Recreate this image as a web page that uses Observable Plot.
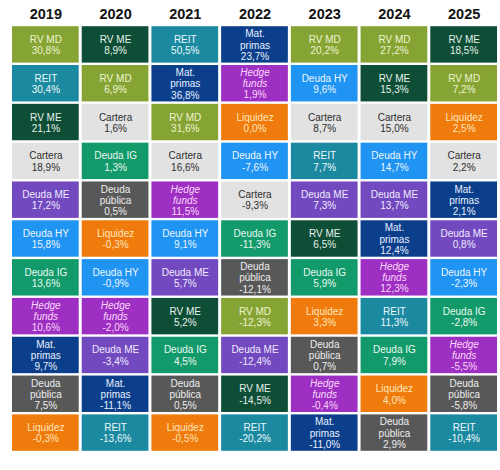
<!DOCTYPE html>
<html>
<head>
<meta charset="utf-8">
<script src="https://cdn.jsdelivr.net/npm/d3@7"></script>
<script src="https://cdn.jsdelivr.net/npm/@observablehq/plot@0.6"></script>
<style>
  html, body { margin: 0; padding: 0; background: #ffffff; overflow: hidden; }
  #chart { width: 500px; height: 470px; }
  #chart svg { display: block; }
</style>
</head>
<body>
<div id="chart"></div>
<script>
const years = ["2019", "2020", "2021", "2022", "2023", "2024", "2025"];

const assets2019 = ["RV MD", "REIT", "RV ME", "Cartera", "Deuda ME", "Deuda HY", "Deuda IG", "Hedge funds", "Mat. primas", "Deuda pública", "Liquidez"];
const returns2019 = [30.8, 30.4, 21.1, 18.9, 17.2, 15.8, 13.6, 10.6, 9.7, 7.5, -0.3];

const assets2020 = ["RV ME", "RV MD", "Cartera", "Deuda IG", "Deuda pública", "Liquidez", "Deuda HY", "Hedge funds", "Deuda ME", "Mat. primas", "REIT"];
const returns2020 = [8.9, 6.9, 1.6, 1.3, 0.5, -0.3, -0.9, -2.0, -3.4, -11.1, -13.6];

const assets2021 = ["REIT", "Mat. primas", "RV MD", "Cartera", "Hedge funds", "Deuda HY", "Deuda ME", "RV ME", "Deuda IG", "Deuda pública", "Liquidez"];
const returns2021 = [50.5, 36.8, 31.6, 16.6, 11.5, 9.1, 5.7, 5.2, 4.5, 0.5, -0.5];

const assets2022 = ["Mat. primas", "Hedge funds", "Liquidez", "Deuda HY", "Cartera", "Deuda IG", "Deuda pública", "RV MD", "Deuda ME", "RV ME", "REIT"];
const returns2022 = [23.7, 1.9, 0.0, -7.6, -9.3, -11.3, -12.1, -12.3, -12.4, -14.5, -20.2];

const assets2023 = ["RV MD", "Deuda HY", "Cartera", "REIT", "Deuda ME", "RV ME", "Deuda IG", "Liquidez", "Deuda pública", "Hedge funds", "Mat. primas"];
const returns2023 = [20.2, 9.6, 8.7, 7.7, 7.3, 6.5, 5.9, 3.3, 0.7, -0.4, -11.0];

const assets2024 = ["RV MD", "RV ME", "Cartera", "Deuda HY", "Deuda ME", "Mat. primas", "Hedge funds", "REIT", "Deuda IG", "Liquidez", "Deuda pública"];
const returns2024 = [27.2, 15.3, 15.0, 14.7, 13.7, 12.4, 12.3, 11.3, 7.9, 4.0, 2.9];

const assets2025 = ["RV ME", "RV MD", "Liquidez", "Cartera", "Mat. primas", "Deuda ME", "Deuda HY", "Deuda IG", "Hedge funds", "Deuda pública", "REIT"];
const returns2025 = [18.5, 7.2, 2.5, 2.2, 2.1, 0.8, -2.3, -2.8, -5.5, -5.8, -10.4];

// styles (kept apart from the data)
const cellColor = {
  "RV MD": "#86a434",
  "RV ME": "#0e4e36",
  "REIT": "#1b8aa0",
  "Mat. primas": "#0c3f8b",
  "Hedge funds": "#9d2fc2",
  "Liquidez": "#ef7b0c",
  "Cartera": "#e2e2e2",
  "Deuda IG": "#129a6b",
  "Deuda HY": "#1f94f2",
  "Deuda ME": "#7249be",
  "Deuda pública": "#585858"
};
const textColor = {
  "RV MD": "#eef4d2",
  "RV ME": "#e6f2ea",
  "REIT": "#eef8fb",
  "Mat. primas": "#e8f0ff",
  "Hedge funds": "#fbd8fb",
  "Liquidez": "#ffe6bc",
  "Cartera": "#2d2d2d",
  "Deuda IG": "#e9f8f0",
  "Deuda HY": "#eef6ff",
  "Deuda ME": "#f0eaff",
  "Deuda pública": "#eeeeee"
};
const displayName = {
  "Mat. primas": "Mat.\nprimas",
  "Deuda pública": "Deuda\npública",
  "Hedge funds": "Hedge\nfunds"
};

const assetsByYear = [assets2019, assets2020, assets2021, assets2022, assets2023, assets2024, assets2025];
const returnsByYear = [returns2019, returns2020, returns2021, returns2022, returns2023, returns2024, returns2025];

const rows = [];
years.forEach((year, i) => {
  assetsByYear[i].forEach((asset, j) => {
    rows.push({year, rank: j + 1, asset, value: returnsByYear[i][j]});
  });
});

const fmt = v => v.toFixed(1).replace(".", ",") + "%";
const nameOf = a => displayName[a] || a;
const plain = rows.filter(d => d.asset !== "Hedge funds");
const hedge = rows.filter(d => d.asset === "Hedge funds");
const font = "'Liberation Sans', Arial, sans-serif";

const chart = Plot.plot({
  width: 500,
  height: 470,
  marginTop: 25,
  marginBottom: 18,
  marginLeft: 10.5,
  marginRight: 1.5,
  style: {fontFamily: font, background: "#ffffff"},
  x: {domain: years, axis: null, padding: 0, round: false},
  y: {domain: d3.range(1, 12), axis: null, padding: 0, round: false},
  marks: [
    Plot.cell(rows, {
      x: "year", y: "rank",
      fill: d => cellColor[d.asset],
      insetLeft: 1.5, insetRight: 1.5, insetTop: 1.2, insetBottom: 1.2
    }),
    Plot.text(plain, {
      x: "year", y: "rank",
      text: d => nameOf(d.asset) + "\n" + fmt(d.value),
      fill: d => textColor[d.asset],
      fontSize: 10, lineHeight: 1.13
    }),
    Plot.text(hedge, {
      x: "year", y: "rank",
      text: d => nameOf(d.asset),
      fill: d => textColor[d.asset],
      fontSize: 10, lineHeight: 1.13, fontStyle: "italic", dy: -5.65
    }),
    Plot.text(hedge, {
      x: "year", y: "rank",
      text: d => fmt(d.value),
      fill: d => textColor[d.asset],
      fontSize: 10, dy: 11.3
    }),
    Plot.text(years, {
      x: d => d,
      text: d => d,
      frameAnchor: "top",
      lineAnchor: "middle",
      dy: -11.5,
      fontSize: 14.5,
      fontWeight: "bold",
      fill: "#111111"
    })
  ]
});

document.getElementById("chart").appendChild(chart);
</script>
</body>
</html>
